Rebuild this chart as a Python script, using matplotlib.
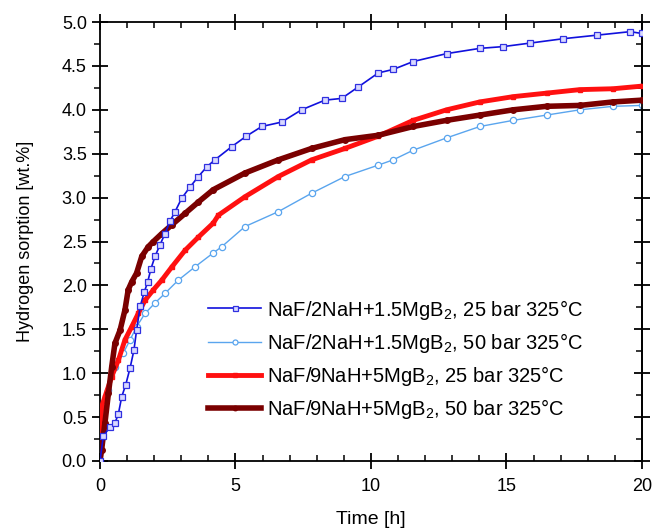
import numpy as np
import matplotlib
matplotlib.use("Agg")
import matplotlib.pyplot as plt
from matplotlib.ticker import MultipleLocator, FormatStrFormatter

plt.rcParams['font.family'] = ['Liberation Sans', 'DejaVu Sans']
plt.rcParams['mathtext.fontset'] = 'custom'
plt.rcParams['mathtext.rm'] = 'Liberation Sans'
plt.rcParams['mathtext.default'] = 'regular'

# NaF/2NaH+1.5MgB2, 25 bar
t_b25 = [0, 0.12, 0.37, 0.55, 0.68, 0.8, 0.95, 1.11, 1.25, 1.35, 1.48, 1.64, 1.76, 1.88, 2.03,
         2.21, 2.4, 2.58, 2.77, 3.01, 3.32, 3.63, 3.94, 4.24, 4.86, 5.4, 5.97, 6.7, 7.44,
         8.3, 8.92, 9.53, 10.27, 10.82, 11.56, 12.79, 14.02, 14.88, 15.87, 17.1, 18.33,
         19.56, 20.0]
w_b25 = [0, 0.28, 0.39, 0.43, 0.54, 0.73, 0.87, 1.06, 1.26, 1.49, 1.76, 1.93, 2.04, 2.19, 2.33,
         2.46, 2.59, 2.73, 2.84, 2.99, 3.12, 3.24, 3.35, 3.43, 3.58, 3.7, 3.81, 3.86, 4.0,
         4.11, 4.13, 4.26, 4.42, 4.46, 4.55, 4.64, 4.7, 4.72, 4.76, 4.81, 4.85,
         4.89, 4.87]

# NaF/2NaH+1.5MgB2, 50 bar
t_b50 = [0, 0.06, 0.31, 0.55, 0.86, 1.11, 1.35, 1.66, 2.03, 2.4, 2.89, 3.5, 4.18, 4.49, 5.35,
         6.58, 7.81, 9.04, 10.27, 10.82, 11.56, 12.79, 14.02, 15.25, 16.48, 17.71, 18.94, 20.0]
w_b50 = [0, 0.39, 0.81, 1.07, 1.23, 1.38, 1.53, 1.68, 1.8, 1.91, 2.06, 2.21, 2.37, 2.44, 2.67,
         2.84, 3.05, 3.24, 3.37, 3.43, 3.54, 3.68, 3.81, 3.88, 3.94, 4.0, 4.04, 4.05]

# NaF/9NaH+5MgB2, 25 bar
t_r25 = [0, 0.06, 0.18, 0.43, 0.68, 0.92, 1.17, 1.41, 1.66, 1.97, 2.28, 2.65, 3.14, 3.63, 4.18,
         4.37, 5.35, 6.58, 7.81, 9.04, 10.27, 11.56, 12.79, 14.02, 15.25, 16.48, 17.71,
         18.94, 20.0]
w_r25 = [0, 0.62, 0.73, 0.96, 1.15, 1.38, 1.53, 1.68, 1.83, 1.95, 2.06, 2.21, 2.4, 2.55, 2.71,
         2.8, 3.01, 3.24, 3.43, 3.56, 3.7, 3.88, 4.0, 4.09, 4.15, 4.19, 4.23,
         4.24, 4.27]

# NaF/9NaH+5MgB2, 50 bar
t_r50 = [0, 0.06, 0.18, 0.31, 0.43, 0.55, 0.74, 0.92, 1.04, 1.17, 1.35, 1.54, 1.78, 1.97, 2.28,
         2.65, 3.14, 3.63, 4.18, 5.35, 6.58, 7.81, 9.04, 10.27, 11.56, 12.79, 14.02, 15.25,
         16.48, 17.71, 18.94, 20.0]
w_r50 = [0, 0.13, 0.43, 0.77, 1.07, 1.34, 1.49, 1.72, 1.95, 2.04, 2.14, 2.33, 2.44, 2.5, 2.59,
         2.69, 2.82, 2.95, 3.09, 3.28, 3.43, 3.56, 3.66, 3.71, 3.81, 3.88, 3.94, 4.0,
         4.04, 4.05, 4.09, 4.11]

labels = ['NaF/2NaH+1.5MgB$_2$, 25 bar 325°C',
          'NaF/2NaH+1.5MgB$_2$, 50 bar 325°C',
          'NaF/9NaH+5MgB$_2$, 25 bar 325°C',
          'NaF/9NaH+5MgB$_2$, 50 bar 325°C']

fig = plt.figure(figsize=(6.55, 5.32), dpi=100)
ax = fig.add_axes([0.1527, 0.1335, 0.8273, 0.8251])

ax.plot(t_b50, w_b50, color='#5aa5ee', lw=1.0, marker='o', ms=4.5,
        mfc='white', mec='#5aa5ee', mew=0.9, label=labels[1], zorder=2)
ax.plot(t_r25, w_r25, color='#ff1010', lw=3.5, marker='s', ms=3.5,
        mfc='#ff1010', mec='#ff1010', label=labels[2], zorder=3)
ax.plot(t_r50, w_r50, color='#7a0000', lw=4.0, marker='o', ms=4,
        mfc='#7a0000', mec='#7a0000', label=labels[3], zorder=4)
ax.plot(t_b25, w_b25, color='#1010dd', lw=1.2, marker='s', ms=4.5,
        mfc='#d8d8ff', mec='#3030e0', mew=0.9, label=labels[0], zorder=5)

ax.set_xlim(0, 20)
ax.set_ylim(0, 5.0)
ax.xaxis.set_major_locator(MultipleLocator(5))
ax.xaxis.set_minor_locator(MultipleLocator(1))
ax.yaxis.set_major_locator(MultipleLocator(0.5))
ax.yaxis.set_minor_locator(MultipleLocator(0.25))
ax.yaxis.set_major_formatter(FormatStrFormatter('%.1f'))

for s in ax.spines.values():
    s.set_linewidth(1.3)
ax.tick_params(axis='both', which='major', direction='inout', length=12, width=1.3,
               labelsize=13, top=True, right=False)
ax.tick_params(axis='x', which='minor', direction='in', length=4, width=1.1, top=True)
ax.tick_params(axis='y', which='minor', direction='out', length=4, width=1.1, right=False)
ax.tick_params(axis='x', pad=6)

# right spine ticks: minor ones point inwards there
sec = ax.secondary_yaxis('right')
sec.yaxis.set_major_locator(MultipleLocator(0.5))
sec.yaxis.set_minor_locator(MultipleLocator(0.25))
sec.tick_params(which='major', direction='inout', length=12, width=1.3, labelright=False)
sec.tick_params(which='minor', direction='in', length=4, width=1.1)
sec.spines['right'].set_linewidth(1.3)

ax.set_xlabel('Time [h]', fontsize=14, labelpad=12)
ax.set_ylabel('Hydrogen sorption [wt.%]', fontsize=13, labelpad=20)

h, l = ax.get_legend_handles_labels()
order = [3, 0, 1, 2]
ax.legend([h[i] for i in order], [l[i] for i in order], loc='center left',
          bbox_to_anchor=(0.2, 0.232), frameon=False, fontsize=14.5,
          handlelength=2.6, handletextpad=0.3, labelspacing=0.45,
          borderpad=0, borderaxespad=0, markerscale=0.8)

fig.savefig('out.png', dpi=100)
